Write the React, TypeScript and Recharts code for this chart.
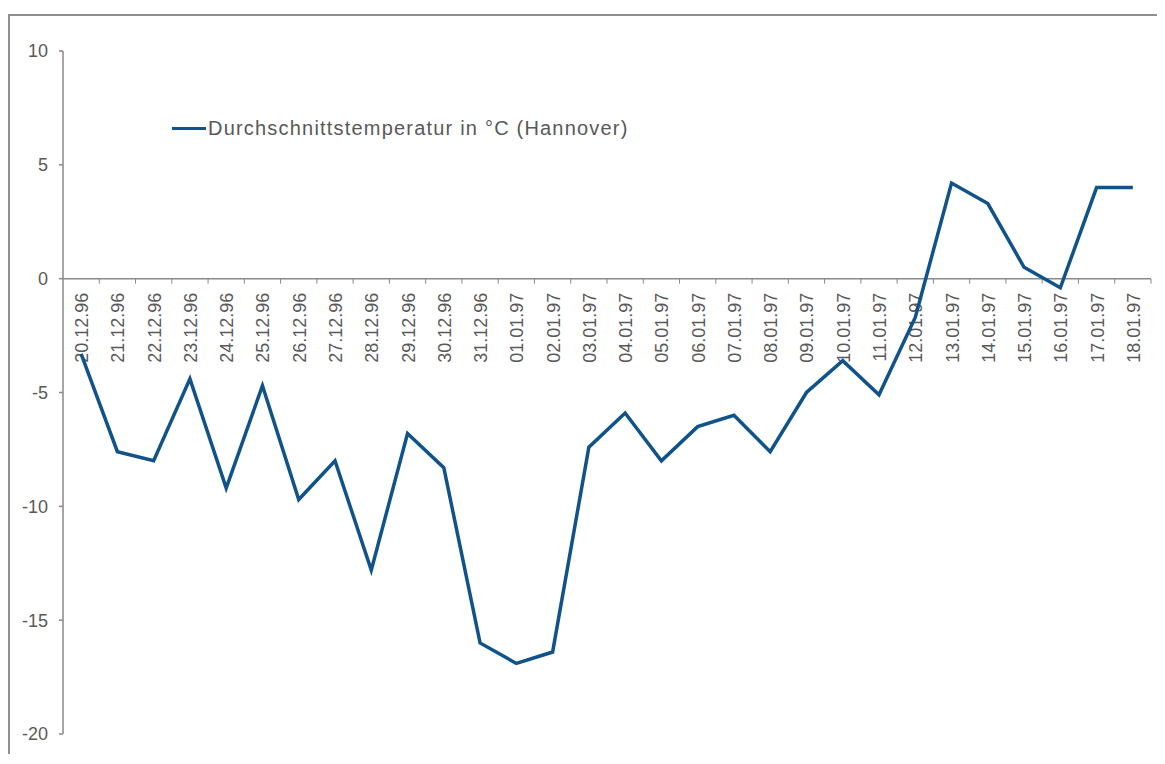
import { LineChart, Line, XAxis, YAxis, ReferenceLine, Legend } from "recharts";

const dates = [
  "20.12.96", "21.12.96", "22.12.96", "23.12.96", "24.12.96", "25.12.96",
  "26.12.96", "27.12.96", "28.12.96", "29.12.96", "30.12.96", "31.12.96",
  "01.01.97", "02.01.97", "03.01.97", "04.01.97", "05.01.97", "06.01.97",
  "07.01.97", "08.01.97", "09.01.97", "10.01.97", "11.01.97", "12.01.97",
  "13.01.97", "14.01.97", "15.01.97", "16.01.97", "17.01.97", "18.01.97",
];

const temps = [
  -3.3, -7.6, -8.0, -4.4, -9.2, -4.7, -9.7, -8.0, -12.8, -6.8, -8.3, -16.0,
  -16.9, -16.4, -7.4, -5.9, -8.0, -6.5, -6.0, -7.6, -5.0, -3.6, -5.1, -1.7,
  4.2, 3.3, 0.5, -0.4, 4.0, 4.0,
];

const yTicks = [10, 5, 0, -5, -10, -15, -20];

const seriesName = "Durchschnittstemperatur in °C (Hannover)";

const data = dates.map((d, i) => ({ date: d, temp: temps[i] }));

const FONT = "'Liberation Sans', Arial, sans-serif";
const TEXT = "#595959";
const AXIS = "#898989";
const BLUE = "#10528a";

// x axis sits on the zero line, so draw it from the reference line's coordinates
const ZeroAxis = (props) => {
  const { x1, x2, y1 } = props;
  if (x1 == null || y1 == null) return null;
  const bw = (x2 - x1) / dates.length;
  return (
    <g>
      <line x1={x1} y1={y1} x2={x2} y2={y1} stroke={AXIS} strokeWidth={1.5} />
      {dates.map((d, i) => {
        const tx = x1 + (i + 1) * bw;
        const cx = x1 + (i + 0.5) * bw;
        const ly = y1 + 14;
        return (
          <g key={d}>
            <line x1={tx} y1={y1} x2={tx} y2={y1 + 5} stroke={AXIS} strokeWidth={1} />
            <text
              x={cx + 7}
              y={ly}
              transform={`rotate(-90, ${cx + 7}, ${ly})`}
              textAnchor="end"
              fill={TEXT}
              fontSize={18}
              fontFamily={FONT}
            >
              {d}
            </text>
          </g>
        );
      })}
    </g>
  );
};

const LegendBox = () => (
  <div
    style={{
      display: "flex",
      alignItems: "center",
      fontFamily: FONT,
      fontSize: 20,
      letterSpacing: 1.2,
      color: TEXT,
      whiteSpace: "nowrap",
    }}
  >
    <span style={{ display: "inline-block", width: 34, height: 3, background: BLUE, marginRight: 2 }} />
    <span>{seriesName}</span>
  </div>
);

export default function App() {
  return (
    <div style={{ paddingTop: 6 }}>
      <div
        style={{
          width: 1153,
          height: 738,
          borderTop: "2px solid #8f8f8f",
          borderLeft: "2px solid #8f8f8f",
          fontFamily: FONT,
        }}
      >
        <LineChart
          width={1153}
          height={738}
          data={data}
          margin={{ top: 12, right: 12, left: 0, bottom: 20 }}
        >
          <XAxis dataKey="date" scale="band" hide />
          <YAxis
            domain={[-20, 10]}
            ticks={yTicks}
            width={53}
            stroke={AXIS}
            strokeWidth={1.5}
            tickSize={4}
            tickMargin={11}
            tick={{ fill: TEXT, fontSize: 18, fontFamily: FONT }}
            interval={0}
          />
          <ReferenceLine y={0} shape={ZeroAxis} />
          <Legend
            layout="vertical"
            align="center"
            verticalAlign="top"
            content={LegendBox}
            wrapperStyle={{ position: "absolute", left: 162, top: 101, width: "auto" }}
          />
          <Line
            type="linear"
            dataKey="temp"
            name={seriesName}
            stroke={BLUE}
            strokeWidth={3.5}
            dot={false}
            activeDot={false}
            isAnimationActive={false}
          />
        </LineChart>
      </div>
    </div>
  );
}
